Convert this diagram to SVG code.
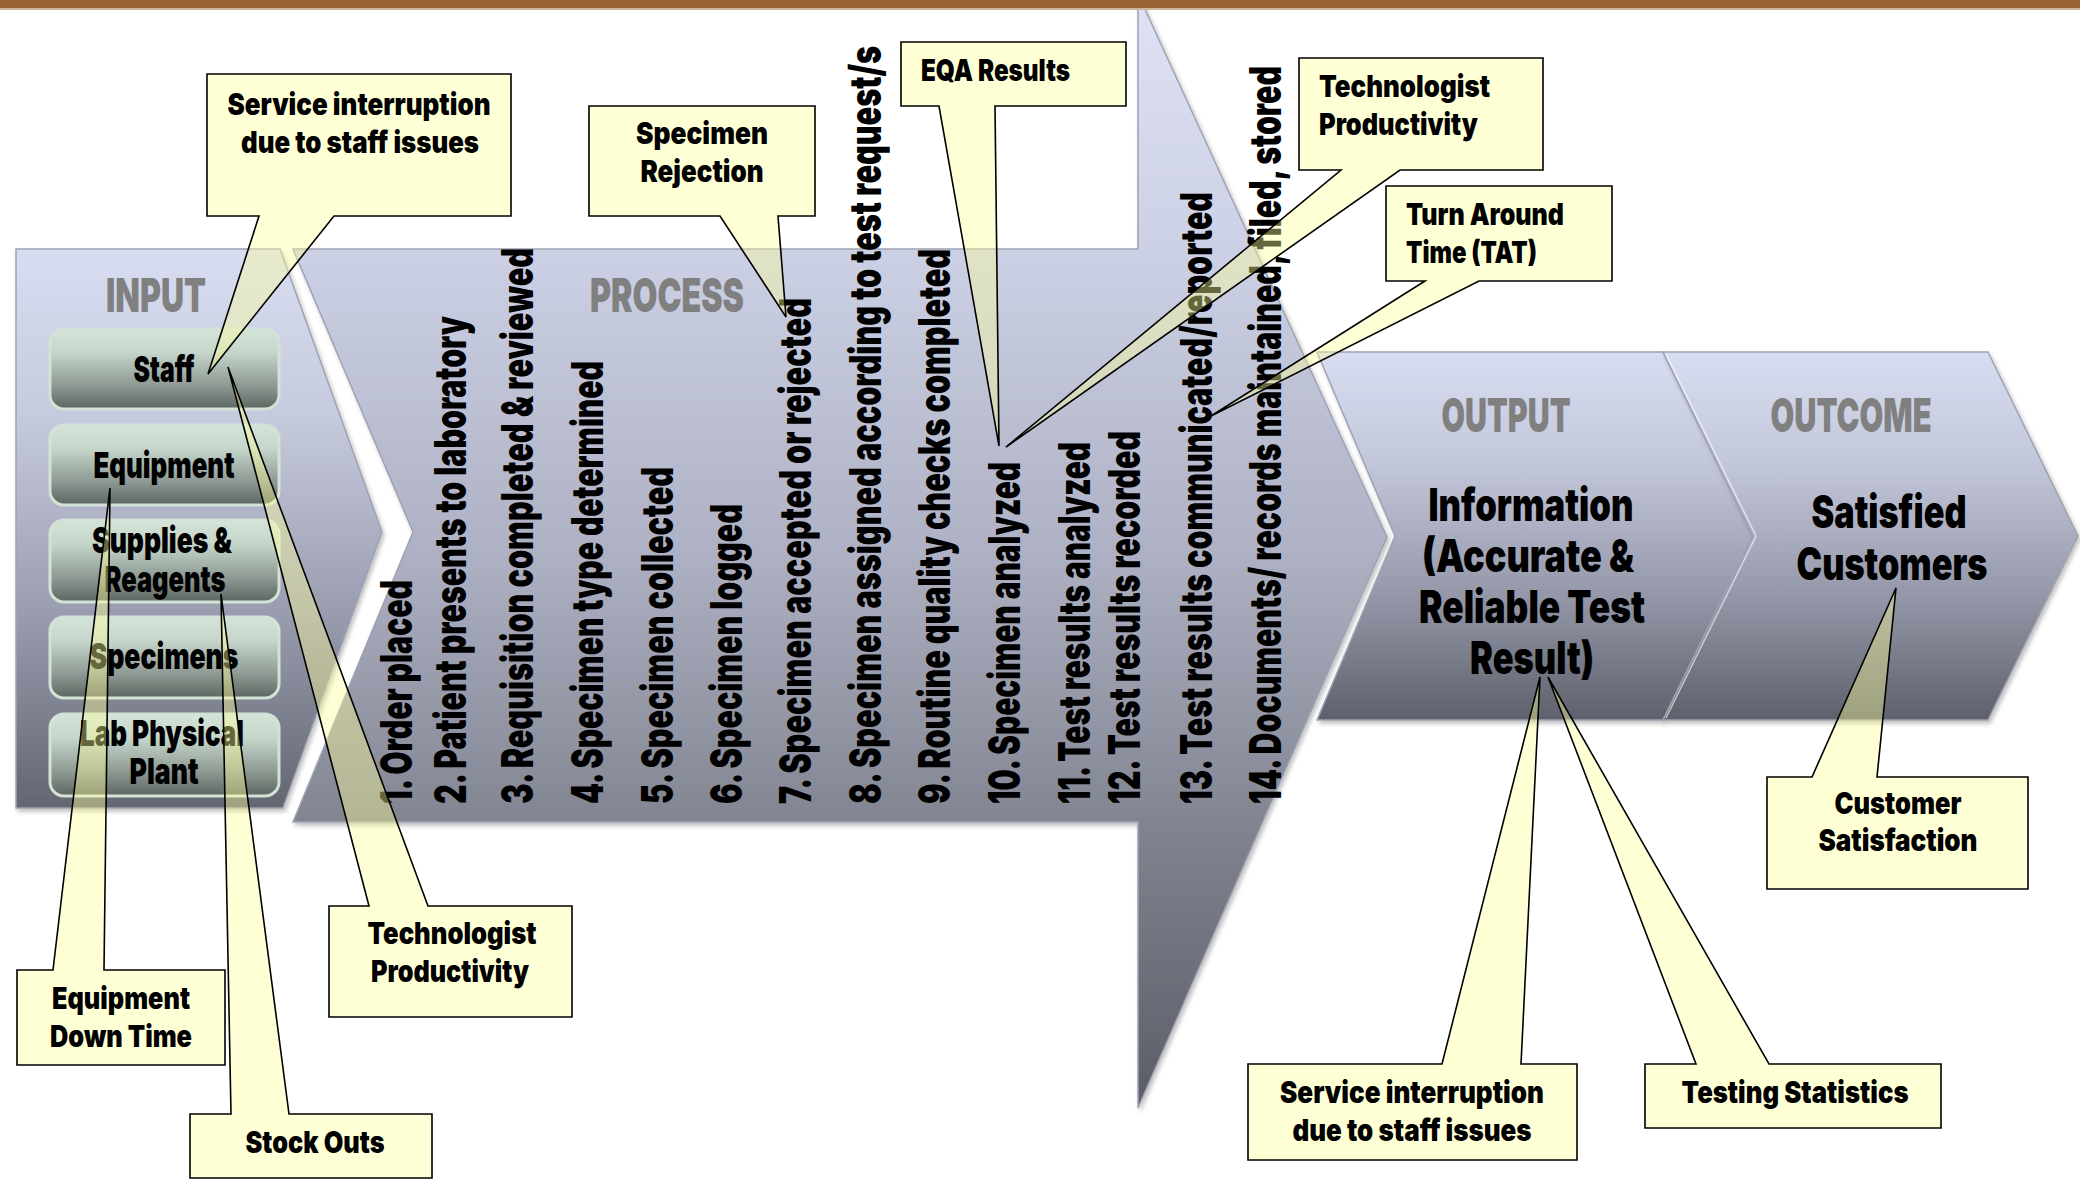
<svg xmlns="http://www.w3.org/2000/svg" width="2080" height="1182" viewBox="0 0 2080 1182">
<defs>
<linearGradient id="gIn" x1="0" y1="0" x2="0" y2="1"><stop offset="0" stop-color="#d9ddf1"/><stop offset="0.3" stop-color="#c6cadd"/><stop offset="0.65" stop-color="#9a9daf"/><stop offset="1" stop-color="#636671"/></linearGradient>
<linearGradient id="gPr" gradientUnits="userSpaceOnUse" x1="0" y1="0" x2="0" y2="1108"><stop offset="0" stop-color="#dfe2f4"/><stop offset="0.23" stop-color="#ccd0e4"/><stop offset="0.5" stop-color="#aeb1c3"/><stop offset="0.75" stop-color="#80838f"/><stop offset="1" stop-color="#5b5d67"/></linearGradient>
<linearGradient id="gBand" x1="0" y1="0" x2="0" y2="1"><stop offset="0" stop-color="#d9ddf1"/><stop offset="0.3" stop-color="#c3c7da"/><stop offset="0.65" stop-color="#9699aa"/><stop offset="1" stop-color="#5e616b"/></linearGradient>
<linearGradient id="gBtn" x1="0" y1="0" x2="0" y2="1"><stop offset="0" stop-color="#d4e4d9"/><stop offset="0.3" stop-color="#c5d5ca"/><stop offset="0.7" stop-color="#8e9a93"/><stop offset="1" stop-color="#5d6661"/></linearGradient>
<filter id="sh" x="-5%" y="-5%" width="110%" height="110%"><feDropShadow dx="2" dy="3" stdDeviation="2" flood-color="#000" flood-opacity="0.25"/></filter>
</defs>
<style>
.shape{stroke:#9ea2b2;stroke-width:1.5}
.btn{fill:url(#gBtn);stroke:#d3e2d7;stroke-width:3}
.imp{font-family:Inter,"DejaVu Sans",sans-serif;font-weight:900;text-anchor:middle;fill:#000}
.title{font-size:47px;fill:#808080}
.bt{font-size:36px}
.big{font-size:45px}
.co{font-size:30px}
.lft{text-anchor:start}
.step{font-family:Inter,"DejaVu Sans",sans-serif;font-weight:900;font-size:44px;fill:#000}
.call{fill:#ffff99;fill-opacity:0.4;stroke:#000;stroke-width:1.6;stroke-linejoin:miter}
</style>
<rect width="2080" height="1182" fill="#ffffff"/>

<g id="input">
<path class="shape" filter="url(#sh)" fill="url(#gIn)" d="M16,249 H280 L382,532 L283,808 H16 Z"/>
<text class="imp title" x="156" y="312" textLength="100" lengthAdjust="spacingAndGlyphs">INPUT</text>
</g>

<g id="process">
<path class="shape" filter="url(#sh)" fill="url(#gPr)" d="M293,249 H1138 V-6 L1387,537 L1138,1108 V822 H293 L413,532 Z"/>
<text class="imp title" x="667" y="312" textLength="154" lengthAdjust="spacingAndGlyphs">PROCESS</text>
</g>

<g id="output">
<path class="shape" filter="url(#sh)" fill="url(#gBand)" d="M1317,352 H1663 L1753,536 L1663,720 H1317 L1395,536 Z"/>
<text class="imp title" x="1506" y="432" textLength="129" lengthAdjust="spacingAndGlyphs">OUTPUT</text>
<text class="imp big" x="1531" y="521" textLength="205" lengthAdjust="spacingAndGlyphs">Information</text>
<text class="imp big" x="1528" y="572" textLength="212" lengthAdjust="spacingAndGlyphs">(Accurate &amp;</text>
<text class="imp big" x="1532" y="623" textLength="226" lengthAdjust="spacingAndGlyphs">Reliable Test</text>
<text class="imp big" x="1532" y="674" textLength="124" lengthAdjust="spacingAndGlyphs">Result)</text>
</g>

<g id="outcome">
<path class="shape" filter="url(#sh)" fill="url(#gBand)" d="M1663,352 H1988 L2078,536 L1988,720 H1663 L1753,536 Z"/>
<polyline points="1666,354 1756,536 1666,718" fill="none" stroke="#ffffff" stroke-opacity="0.6" stroke-width="1.5"/>
<text class="imp title" x="1851" y="432" textLength="161" lengthAdjust="spacingAndGlyphs">OUTCOME</text>
<text class="imp big" x="1889" y="528" textLength="155" lengthAdjust="spacingAndGlyphs">Satisfied</text>
<text class="imp big" x="1892" y="580" textLength="191" lengthAdjust="spacingAndGlyphs">Customers</text>
</g>

<g id="btn-staff">
<rect class="btn" x="50" y="329" width="229" height="80" rx="14"/>
<text class="imp bt" x="164" y="382" textLength="61" lengthAdjust="spacingAndGlyphs">Staff</text>
</g>
<g id="btn-equipment">
<rect class="btn" x="50" y="425" width="229" height="80" rx="14"/>
<text class="imp bt" x="164" y="478" textLength="141" lengthAdjust="spacingAndGlyphs">Equipment</text>
</g>
<g id="btn-supplies">
<rect class="btn" x="50" y="520" width="229" height="82" rx="14"/>
<text class="imp bt" x="162" y="553" textLength="140" lengthAdjust="spacingAndGlyphs">Supplies &amp;</text>
<text class="imp bt" x="165" y="592" textLength="121" lengthAdjust="spacingAndGlyphs">Reagents</text>
</g>
<g id="btn-specimens">
<rect class="btn" x="50" y="617" width="229" height="81" rx="14"/>
<text class="imp bt" x="164" y="669" textLength="149" lengthAdjust="spacingAndGlyphs">Specimens</text>
</g>
<g id="btn-lab">
<rect class="btn" x="50" y="714" width="229" height="82" rx="14"/>
<text class="imp bt" x="162" y="746" textLength="164" lengthAdjust="spacingAndGlyphs">Lab Physical</text>
<text class="imp bt" x="164" y="784" textLength="69" lengthAdjust="spacingAndGlyphs">Plant</text>
</g>

<g id="steps">
<text class="step" transform="translate(412,804) rotate(-90)" textLength="224" lengthAdjust="spacingAndGlyphs">1. Order placed</text>
<text class="step" transform="translate(466,804) rotate(-90)" textLength="488" lengthAdjust="spacingAndGlyphs">2. Patient presents to laboratory</text>
<text class="step" transform="translate(533,804) rotate(-90)" textLength="556" lengthAdjust="spacingAndGlyphs">3. Requisition completed &amp; reviewed</text>
<text class="step" transform="translate(603,804) rotate(-90)" textLength="443" lengthAdjust="spacingAndGlyphs">4. Specimen type determined</text>
<text class="step" transform="translate(673,804) rotate(-90)" textLength="337" lengthAdjust="spacingAndGlyphs">5. Specimen collected</text>
<text class="step" transform="translate(742,804) rotate(-90)" textLength="300" lengthAdjust="spacingAndGlyphs">6. Specimen logged</text>
<text class="step" transform="translate(811,804) rotate(-90)" textLength="506" lengthAdjust="spacingAndGlyphs">7. Specimen accepted or rejected</text>
<text class="step" transform="translate(881,804) rotate(-90)" textLength="758" lengthAdjust="spacingAndGlyphs">8. Specimen assigned according to test request/s</text>
<text class="step" transform="translate(950,804) rotate(-90)" textLength="555" lengthAdjust="spacingAndGlyphs">9. Routine quality checks completed</text>
<text class="step" transform="translate(1020,804) rotate(-90)" textLength="342" lengthAdjust="spacingAndGlyphs">10. Specimen analyzed</text>
<text class="step" transform="translate(1090,804) rotate(-90)" textLength="362" lengthAdjust="spacingAndGlyphs">11. Test results analyzed</text>
<text class="step" transform="translate(1140,804) rotate(-90)" textLength="373" lengthAdjust="spacingAndGlyphs">12. Test results recorded</text>
<text class="step" transform="translate(1212,804) rotate(-90)" textLength="612" lengthAdjust="spacingAndGlyphs">13. Test results communicated/reported</text>
<text class="step" transform="translate(1281,804) rotate(-90)" textLength="738" lengthAdjust="spacingAndGlyphs">14. Documents/ records maintained, filed, stored</text>
</g>

<g id="topbar">
<rect x="0" y="0" width="2080" height="8" fill="#9a6433"/>
<rect x="0" y="8" width="2080" height="2" fill="#cbb89c"/>
</g>

<g id="callout-service-top">
<path class="call" d="M207,74 H511 V216 H334 L208,374 L259,216 H207 Z"/>
<text class="imp co" x="359" y="115" textLength="263" lengthAdjust="spacingAndGlyphs">Service interruption</text>
<text class="imp co" x="360" y="153" textLength="238" lengthAdjust="spacingAndGlyphs">due to staff issues</text>
</g>
<g id="callout-rejection">
<path class="call" d="M589,106 H815 V216 H778 L786,317 L720,216 H589 Z"/>
<text class="imp co" x="702" y="144" textLength="132" lengthAdjust="spacingAndGlyphs">Specimen</text>
<text class="imp co" x="702" y="182" textLength="123" lengthAdjust="spacingAndGlyphs">Rejection</text>
</g>
<g id="callout-eqa">
<path class="call" d="M901,42 H1126 V106 H995 L999,446 L939,106 H901 Z"/>
<text class="imp co lft" x="921" y="81" textLength="149" lengthAdjust="spacingAndGlyphs">EQA Results</text>
</g>
<g id="callout-tech-top">
<path class="call" d="M1299,58 H1543 V170 H1400 L1006,447 L1341,170 H1299 Z"/>
<text class="imp co lft" x="1319" y="97" textLength="171" lengthAdjust="spacingAndGlyphs">Technologist</text>
<text class="imp co lft" x="1319" y="135" textLength="159" lengthAdjust="spacingAndGlyphs">Productivity</text>
</g>
<g id="callout-tat">
<path class="call" d="M1386,186 H1612 V281 H1479 L1211,416 L1425,281 H1386 Z"/>
<text class="imp co lft" x="1406" y="225" textLength="158" lengthAdjust="spacingAndGlyphs">Turn Around</text>
<text class="imp co lft" x="1406" y="263" textLength="131" lengthAdjust="spacingAndGlyphs">Time (TAT)</text>
</g>
<g id="callout-tech-bottom">
<path class="call" d="M329,906 H369 L228,367 L428,906 H572 V1017 H329 Z"/>
<text class="imp co" x="452" y="944" textLength="169" lengthAdjust="spacingAndGlyphs">Technologist</text>
<text class="imp co" x="450" y="982" textLength="158" lengthAdjust="spacingAndGlyphs">Productivity</text>
</g>
<g id="callout-equipment">
<path class="call" d="M17,970 H53 L110,488 L104,970 H225 V1065 H17 Z"/>
<text class="imp co" x="121" y="1009" textLength="138" lengthAdjust="spacingAndGlyphs">Equipment</text>
<text class="imp co" x="121" y="1047" textLength="142" lengthAdjust="spacingAndGlyphs">Down Time</text>
</g>
<g id="callout-stock">
<path class="call" d="M190,1114 H231 L221,594 L289,1114 H432 V1178 H190 Z"/>
<text class="imp co" x="315" y="1153" textLength="139" lengthAdjust="spacingAndGlyphs">Stock Outs</text>
</g>
<g id="callout-service-bottom">
<path class="call" d="M1248,1064 H1442 L1540,677 L1521,1064 H1577 V1160 H1248 Z"/>
<text class="imp co" x="1412" y="1103" textLength="264" lengthAdjust="spacingAndGlyphs">Service interruption</text>
<text class="imp co" x="1412" y="1141" textLength="239" lengthAdjust="spacingAndGlyphs">due to staff issues</text>
</g>
<g id="callout-testing">
<path class="call" d="M1645,1064 H1696 L1548,677 L1769,1064 H1941 V1128 H1645 Z"/>
<text class="imp co" x="1795" y="1103" textLength="227" lengthAdjust="spacingAndGlyphs">Testing Statistics</text>
</g>
<g id="callout-customer">
<path class="call" d="M1767,777 H1812 L1896,588 L1877,777 H2028 V889 H1767 Z"/>
<text class="imp co" x="1898" y="814" textLength="127" lengthAdjust="spacingAndGlyphs">Customer</text>
<text class="imp co" x="1898" y="851" textLength="159" lengthAdjust="spacingAndGlyphs">Satisfaction</text>
</g>
</svg>
